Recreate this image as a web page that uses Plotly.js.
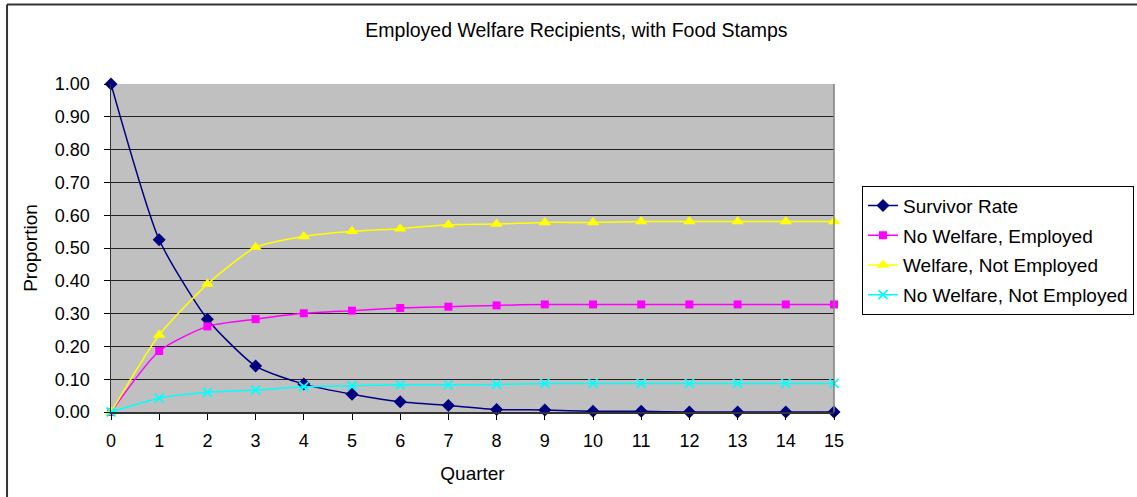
<!DOCTYPE html>
<html>
<head>
<meta charset="utf-8">
<script src="https://cdn.plot.ly/plotly-3.0.1.min.js"></script>
<style>
  html, body { margin: 0; padding: 0; background: #fff; overflow: hidden; }
  #chart { width: 1137px; height: 497px; }
</style>
</head>
<body>
<div id="chart"></div>
<script>
const quarters = [0, 1, 2, 3, 4, 5, 6, 7, 8, 9, 10, 11, 12, 13, 14, 15];
const survivorRate = [1.00, 0.525, 0.283, 0.140, 0.085, 0.054, 0.031, 0.020, 0.008, 0.006, 0.002, 0.002, 0.000, 0.000, 0.000, 0.000];
const noWelfareEmployed = [0.000, 0.186, 0.261, 0.283, 0.301, 0.309, 0.317, 0.321, 0.325, 0.328, 0.328, 0.328, 0.328, 0.328, 0.328, 0.328];
const welfareNotEmployed = [0.000, 0.235, 0.390, 0.502, 0.535, 0.551, 0.559, 0.571, 0.573, 0.578, 0.578, 0.581, 0.581, 0.581, 0.581, 0.581];
const noWelfareNotEmployed = [0.000, 0.042, 0.060, 0.067, 0.077, 0.080, 0.083, 0.083, 0.084, 0.087, 0.087, 0.087, 0.087, 0.087, 0.087, 0.087];
const seriesNames = ["Survivor Rate", "No Welfare, Employed", "Welfare, Not Employed", "No Welfare, Not Employed"];
const xTickLabels = quarters.map(String);
const yTickValues = [0, 0.1, 0.2, 0.3, 0.4, 0.5, 0.6, 0.7, 0.8, 0.9, 1.0];

const FONT = "Liberation Sans, Arial, sans-serif";

function trace(y, name, color, symbol, size, group, lineWidth) {
  return {
    x: quarters, y: y, name: name, type: "scatter", mode: "lines+markers",
    legendgroup: group,
    line: { color: color, width: 1.5, shape: "spline", smoothing: 0.6 },
    marker: { color: color, symbol: symbol, size: size, line: { color: color, width: lineWidth || 0 } },
    cliponaxis: false
  };
}

const data = [
  trace(survivorRate, seriesNames[0], "#000080", "diamond", 10, "g1"),
  trace(noWelfareEmployed, seriesNames[1], "#FF00FF", "square", 8, "g2"),
  trace(welfareNotEmployed, seriesNames[2], "#FFFF00", "triangle-up", 11, "g3"),
  trace(noWelfareNotEmployed, seriesNames[3], "#00FFFF", "x-thin-open", 9, "g4", 1.8)
];

const layout = {
  width: 1137, height: 497,
  margin: { l: 111, r: 303, t: 84, b: 85, pad: 0, autoexpand: false },
  paper_bgcolor: "#ffffff",
  plot_bgcolor: "#C0C0C0",
  font: { family: FONT, color: "#000", size: 18 },
  showlegend: true,
  title: {
    text: "Employed Welfare Recipients, with Food Stamps",
    font: { family: FONT, size: 19.5, color: "#000" },
    x: 0.507, xref: "container", xanchor: "center",
    y: 0.94, yref: "container", yanchor: "middle"
  },
  xaxis: {
    range: [0, 15],
    tickvals: quarters, ticktext: xTickLabels,
    ticks: "outside", ticklen: 6, tickwidth: 1, tickcolor: "#000",
    ticklabelstandoff: 6,
    showgrid: false, zeroline: false,
    showline: true, linecolor: "#333", linewidth: 1.5, mirror: false,
    tickfont: { family: FONT, size: 18, color: "#000" },
    title: { text: "Quarter", font: { family: FONT, size: 19, color: "#000" }, standoff: 16 },
    automargin: false
  },
  yaxis: {
    range: [0, 1],
    tickvals: yTickValues, tickformat: ".2f",
    ticks: "outside", ticklen: 6, tickwidth: 1, tickcolor: "#000",
    ticklabelstandoff: 10,
    showgrid: true, gridcolor: "#222", gridwidth: 1,
    zeroline: false,
    showline: true, linecolor: "#333", linewidth: 1.5, mirror: false,
    tickfont: { family: FONT, size: 18, color: "#000" },
    title: { text: "Proportion", font: { family: FONT, size: 19, color: "#000" }, standoff: 12 },
    automargin: false
  },
  legend: {
    x: 1.0387, xanchor: "left",
    y: 0.69, yanchor: "top",
    bgcolor: "#ffffff",
    bordercolor: "#000", borderwidth: 1,
    font: { family: FONT, size: 19, color: "#000" },
    traceorder: "grouped",
    tracegroupgap: 2,
    itemwidth: 30
  },
  shapes: [
    { type: "line", xref: "paper", yref: "paper", x0: 1, x1: 1, y0: 0, y1: 1, line: { color: "#808080", width: 1.5 } },
    { type: "line", xref: "paper", yref: "paper", x0: -0.1438, x1: 1.42, y0: 1.2427, y1: 1.2427, line: { color: "#333", width: 2 } },
    { type: "line", xref: "paper", yref: "paper", x0: -0.1438, x1: -0.1438, y0: 1.2427, y1: -0.27, line: { color: "#333", width: 2 } }
  ]
};

Plotly.newPlot("chart", data, layout, { displayModeBar: false, staticPlot: true });
</script>
</body>
</html>
